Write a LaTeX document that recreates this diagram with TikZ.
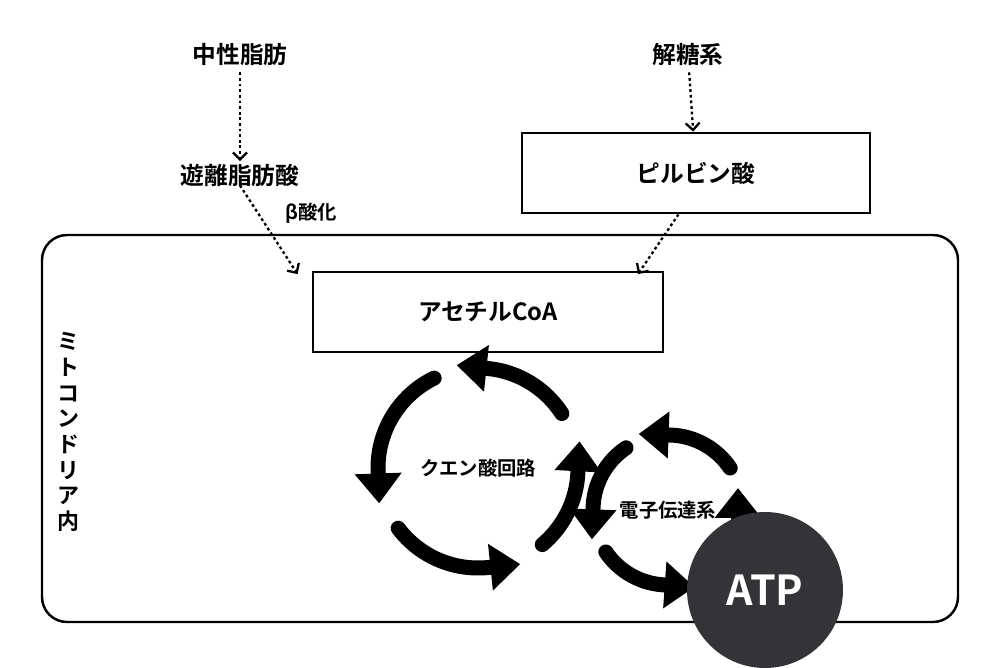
\documentclass[tikz,border=0pt]{standalone}
\usepackage{fontspec}
\setmainfont{Noto Sans CJK JP}[BoldFont={Noto Sans CJK JP Bold}]
\usetikzlibrary{arrows.meta,positioning,calc}
\definecolor{atpgray}{HTML}{353238}
\tikzset{
  lbl/.style={font=\bfseries\fontsize{13.5}{16}\selectfont},
  small/.style={font=\bfseries\fontsize{11}{13}\selectfont},
  box/.style={draw,line width=1.6pt,minimum width=7cm,minimum height=1.6cm,lbl},
  dotarr/.style={dash pattern=on 1.6pt off 1.6pt,line width=1.3pt,-{Straight Barb[length=4pt,width=8pt]}},
  cyc/.style={line width=0.3cm,line cap=round,-{Triangle[length=0.6cm,width=0.9cm]}},
}
\begin{document}
\begin{tikzpicture}[x=0.02cm,y=-0.02cm]
    \useasboundingbox (0,0) rectangle (1000,668);
    % Mitochondria
    \draw[line width=1.4pt,rounded corners=0.5cm] (42,235) rectangle (958,622);
    \node[font=\bfseries\fontsize{12.5}{14.6}\selectfont,align=center,inner sep=0pt] (mito) at (68,432) {ミ\\ト\\コ\\ン\\ド\\リ\\ア\\内};

    % Sources
    \node[lbl] (fat) at (240,55) {中性脂肪};
    \node[lbl] (gly) at (688,55) {解糖系};
    \node[lbl] (ffa) at (240,175) {遊離脂肪酸};
    \node[box,minimum width=6.96cm] (pyr) at (696,173) {ピルビン酸};
    \node[box] (acoa) at (488,312) {アセチルCoA};
    \node[small] (beta) at (311,213) {β酸化};

    % Dotted arrows
    \draw[dotarr] (fat) -- ([yshift=-2]ffa.north);
    \draw[dotarr] (gly) -- (pyr);
    \draw[dotarr] ([yshift=4]ffa.south) -- ([xshift=-8,yshift=-2]acoa.north west);
    \draw[dotarr] ([xshift=-10]pyr.south) -- ([xshift=-15,yshift=-2]acoa.north east);

    % Citric acid cycle
    \coordinate (tca) at (478,468);
    \node[small] (tcalbl) at (tca) {クエン酸回路};
    \foreach \a/\b in {-33/-84, -116/-182, -217/-276, -310/-357}
      \draw[cyc] ($(tca)+(\a:100)$) arc[start angle=\a,end angle=\b,radius=100]
        -- ++({32*sin(\b)},{-32*cos(\b)});

    % Electron transport chain
    \coordinate (etc) at (668,510);
    \node[small] (etclbl) at (etc) {電子伝達系};
    \foreach \a/\b in {-34/-88, -124/-178, -214/-266}
      \draw[cyc] ($(etc)+(\a:75)$) arc[start angle=\a,end angle=\b,radius=75]
        -- ++({32*sin(\b)},{-32*cos(\b)});
    \draw[cyc] (738,525) -- (738,488);

    % ATP
    \node[circle,fill=atpgray,minimum size=3.12cm,text=white,
          font=\bfseries\fontsize{23.5}{28}\selectfont] (atp) at (765,590) {ATP};
\end{tikzpicture}
\end{document}
